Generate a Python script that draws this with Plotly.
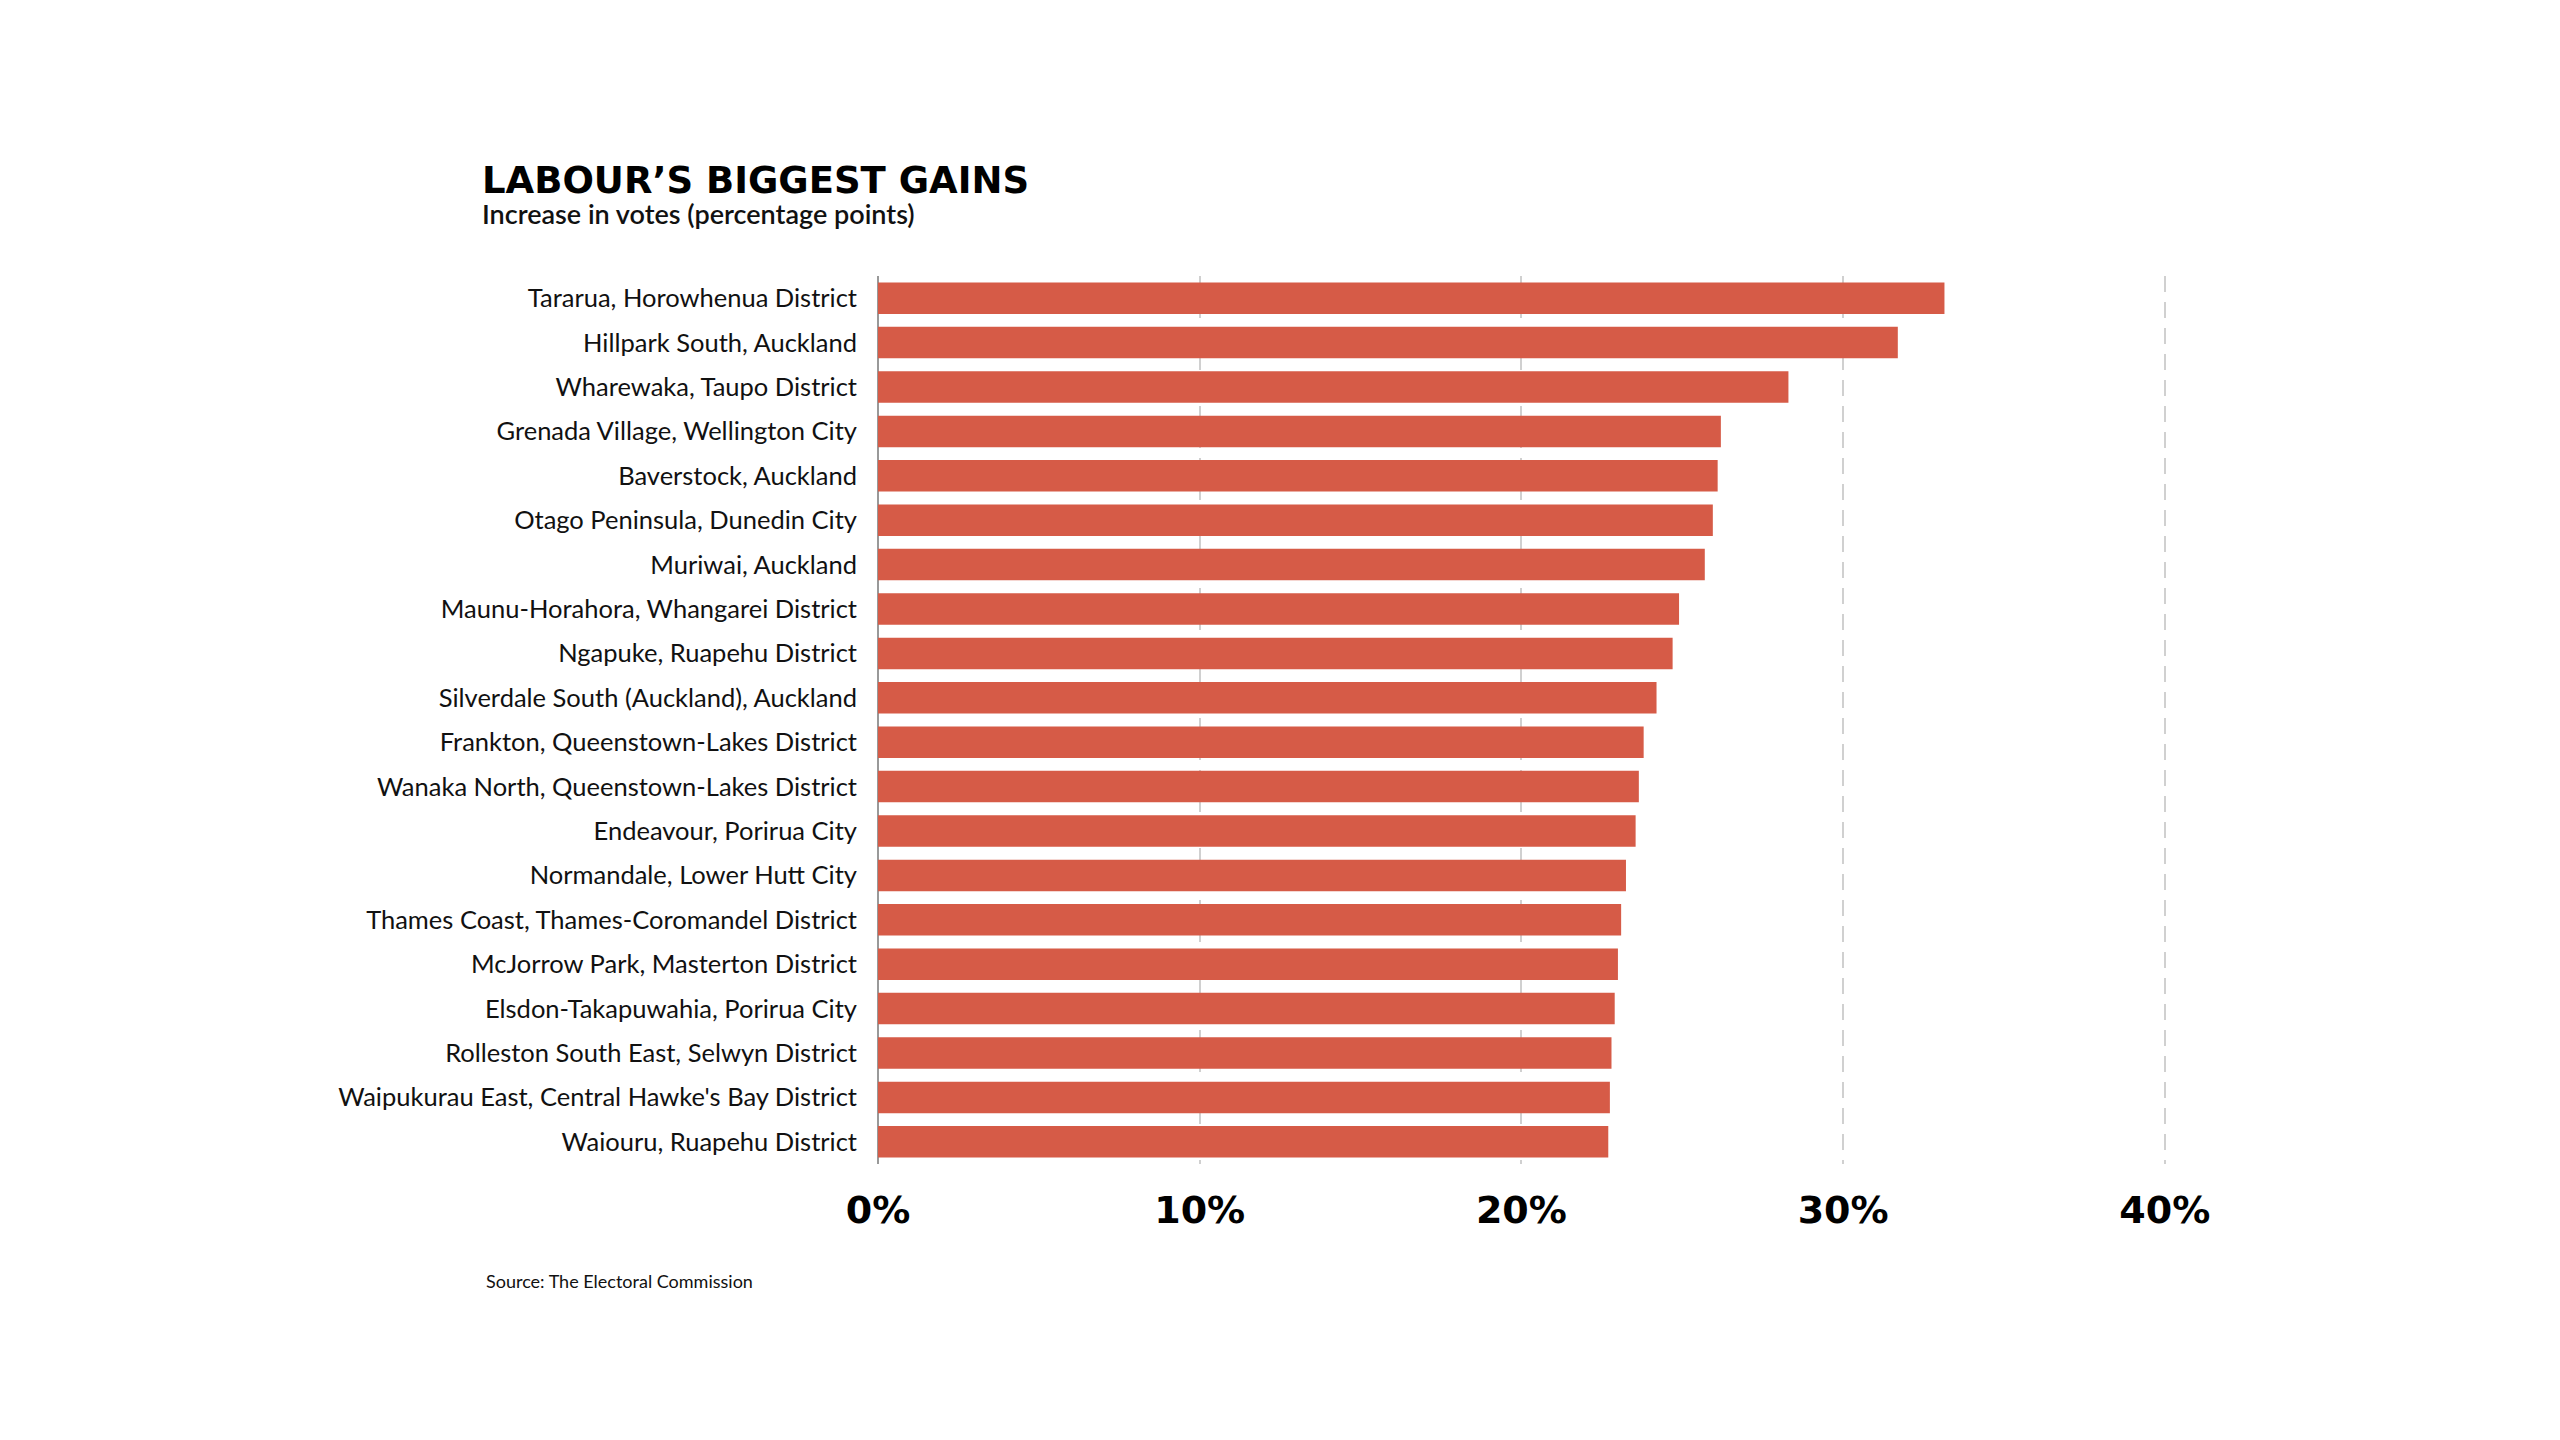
import plotly.graph_objects as go

places = [
    "Tararua, Horowhenua District",
    "Hillpark South, Auckland",
    "Wharewaka, Taupo District",
    "Grenada Village, Wellington City",
    "Baverstock, Auckland",
    "Otago Peninsula, Dunedin City",
    "Muriwai, Auckland",
    "Maunu-Horahora, Whangarei District",
    "Ngapuke, Ruapehu District",
    "Silverdale South (Auckland), Auckland",
    "Frankton, Queenstown-Lakes District",
    "Wanaka North, Queenstown-Lakes District",
    "Endeavour, Porirua City",
    "Normandale, Lower Hutt City",
    "Thames Coast, Thames-Coromandel District",
    "McJorrow Park, Masterton District",
    "Elsdon-Takapuwahia, Porirua City",
    "Rolleston South East, Selwyn District",
    "Waipukurau East, Central Hawke's Bay District",
    "Waiouru, Ruapehu District",
]
gains = [33.15, 31.7, 28.3, 26.2, 26.1, 25.95, 25.7, 24.9, 24.7, 24.2,
         23.8, 23.65, 23.55, 23.25, 23.1, 23.0, 22.9, 22.8, 22.75, 22.7]

tick_vals = [0, 10, 20, 30, 40]
tick_text = ["0%", "10%", "20%", "30%", "40%"]

title_text = "LABOUR\u2019S BIGGEST GAINS"
subtitle_text = "Increase in votes (percentage points)"
source_text = "Source: The Electoral Commission"

fig = go.Figure(go.Bar(
    x=gains,
    y=places,
    orientation="h",
    marker=dict(color="#d65b47", line=dict(width=0)),
    hoverinfo="x+y",
))

fig.update_layout(
    width=2560,
    height=1440,
    paper_bgcolor="white",
    plot_bgcolor="white",
    margin=dict(l=870, r=371, t=268, b=284, pad=0),
    bargap=0.29,
    showlegend=False,
    font=dict(family="Lato", color="#111111"),
)

fig.update_xaxes(
    range=[0, 41],
    tickvals=tick_vals,
    ticktext=tick_text,
    tickfont=dict(family="DejaVu Sans", size=38, color="#000000", weight=900),
    showgrid=True,
    gridcolor="#d0d0d0",
    gridwidth=2,
    griddash="16px,10px",
    zeroline=True,
    zerolinecolor="#999999",
    zerolinewidth=2,
    showline=False,
    ticks="",
    ticklabelstandoff=20,
    fixedrange=True,
)

fig.update_yaxes(
    autorange="reversed",
    tickfont=dict(family="Lato", size=25.5, color="#111111"),
    ticks="",
    showgrid=False,
    zeroline=False,
    showline=False,
    ticklabelstandoff=20,
    fixedrange=True,
)

fig.add_annotation(
    text=title_text, xref="paper", yref="paper", x=-0.3017, y=1.107,
    xanchor="left", yanchor="middle", showarrow=False,
    font=dict(family="DejaVu Sans", size=37, color="#000000", weight=900),
)
fig.add_annotation(
    text=subtitle_text, xref="paper", yref="paper", x=-0.3017, y=1.070,
    xanchor="left", yanchor="middle", showarrow=False,
    font=dict(family="Lato", size=27, color="#111111", weight=600),
)
fig.add_annotation(
    text=source_text, xref="paper", yref="paper", x=-0.2985, y=-0.1318,
    xanchor="left", yanchor="middle", showarrow=False,
    font=dict(family="Lato", size=18, color="#111111"),
)

fig.write_html("out.html")
